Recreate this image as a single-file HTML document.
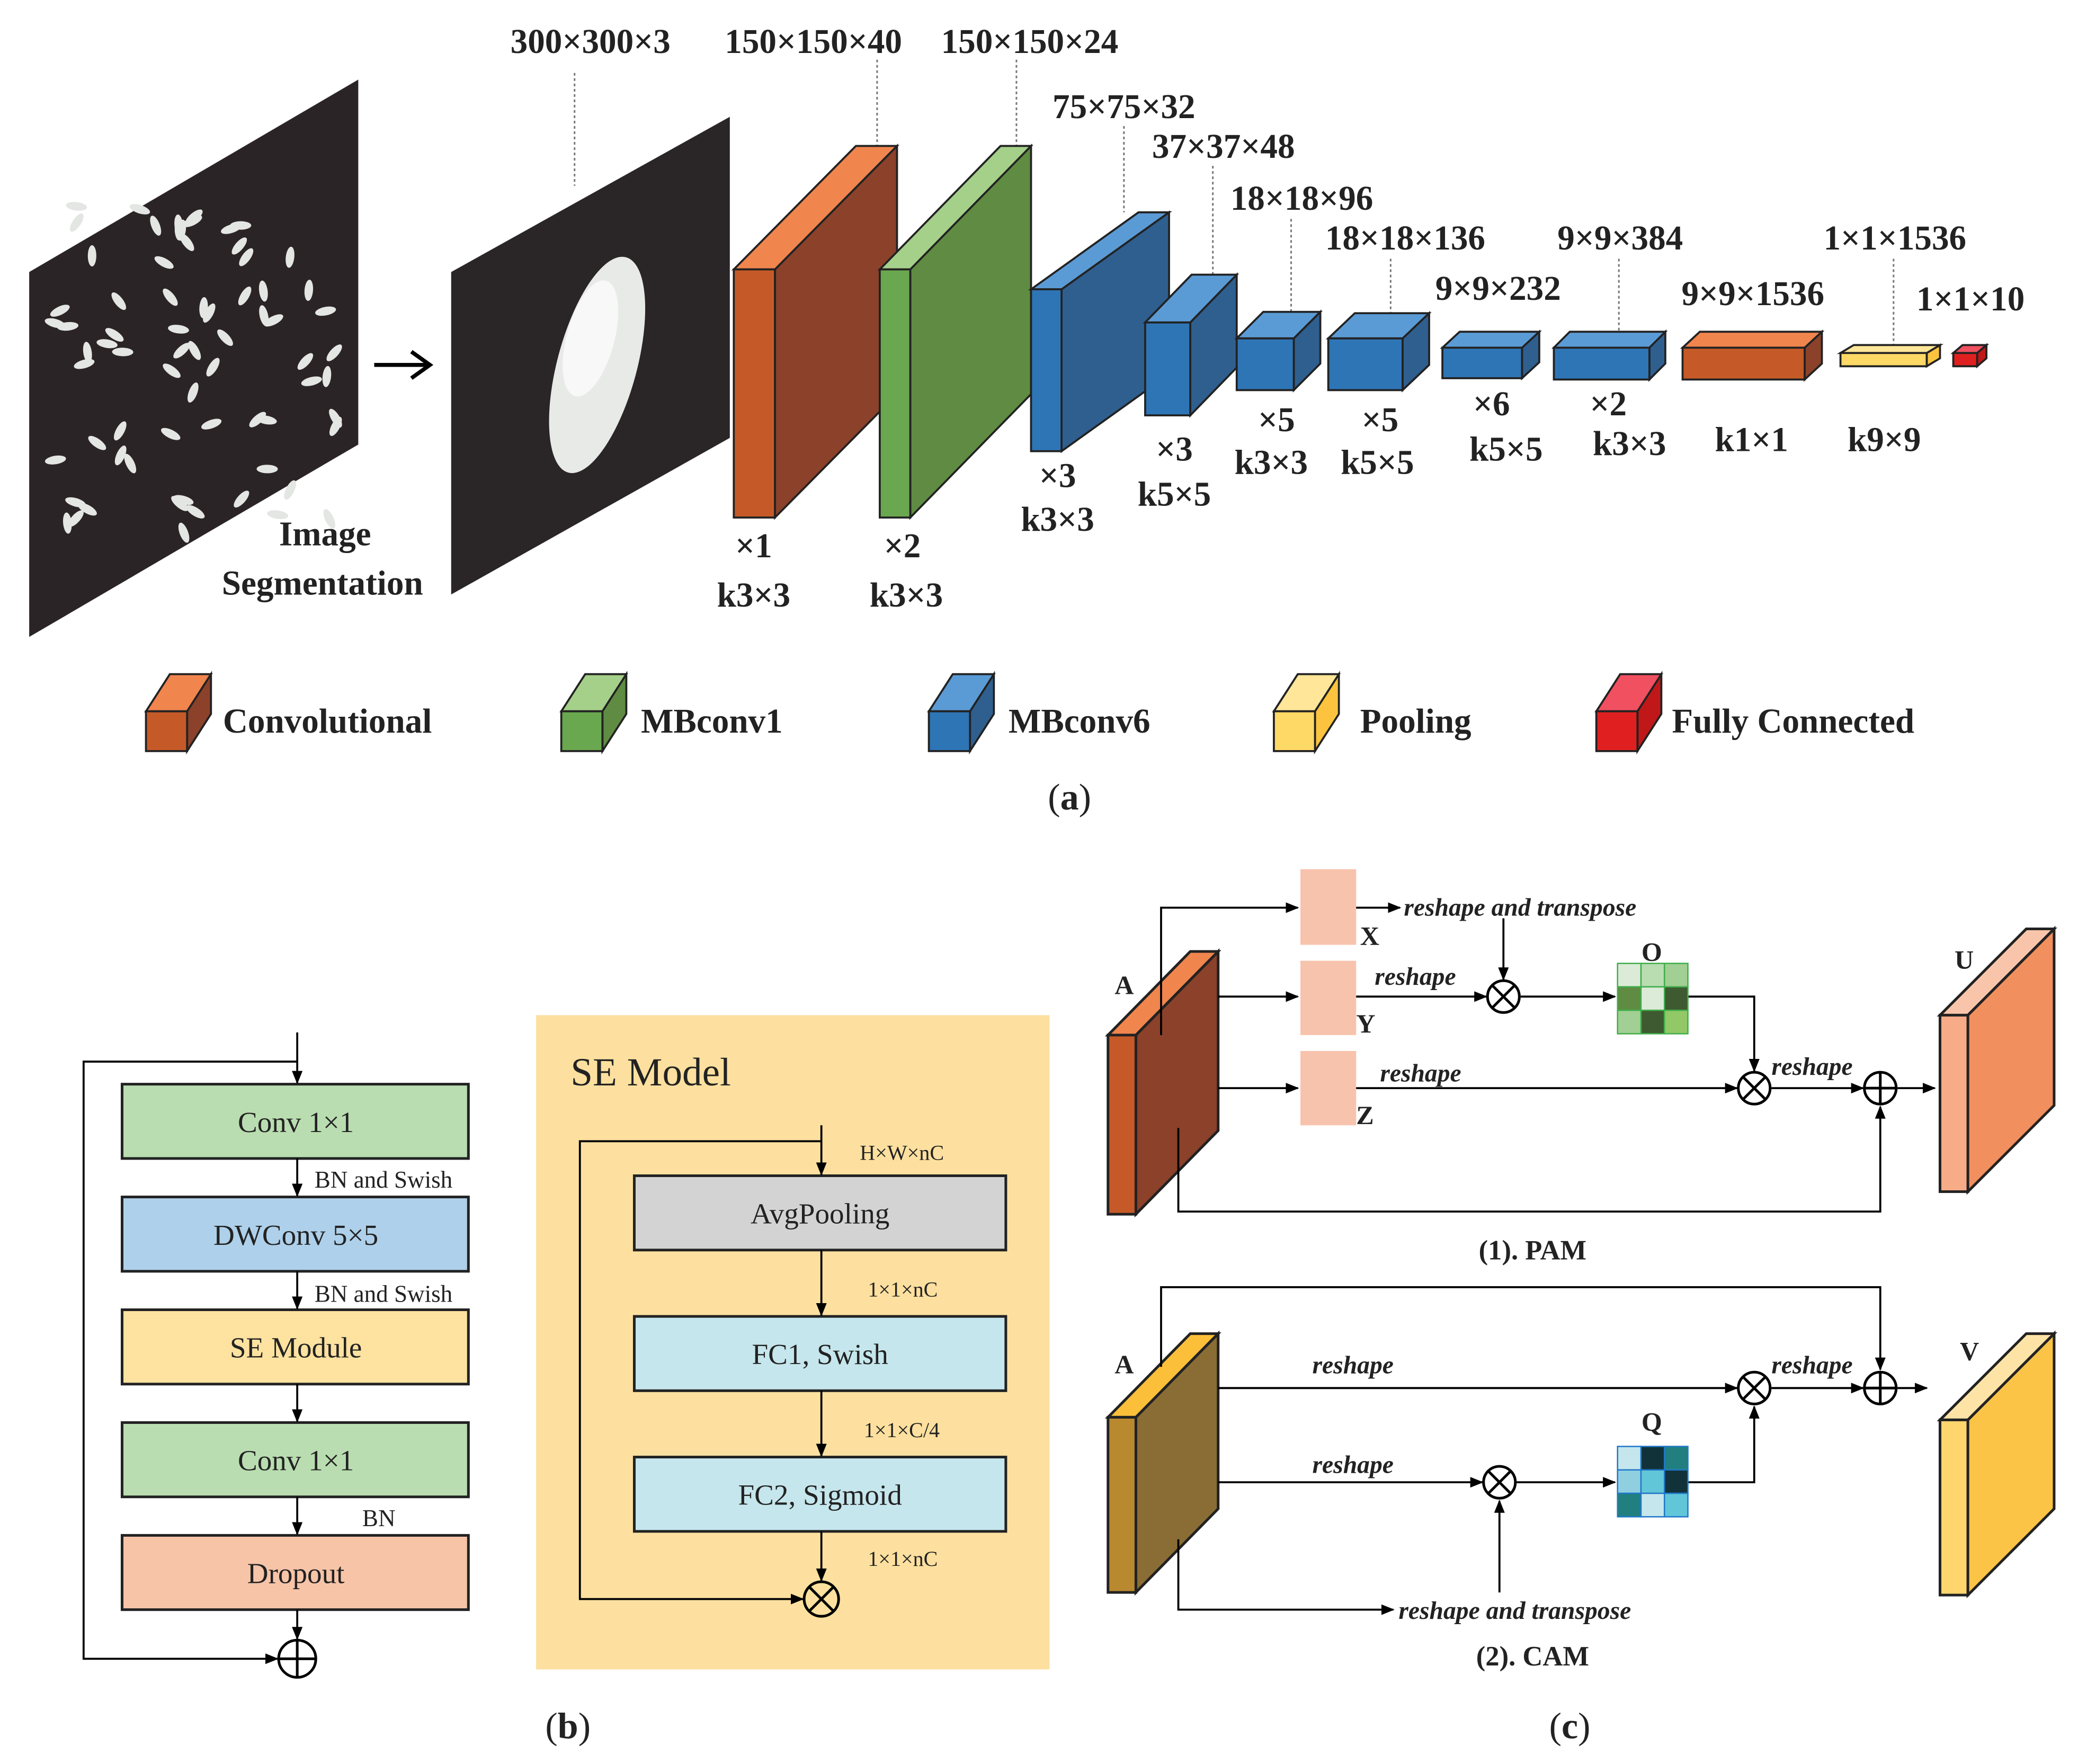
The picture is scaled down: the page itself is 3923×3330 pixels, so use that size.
<!DOCTYPE html>
<html><head><meta charset="utf-8"><style>
html,body{margin:0;padding:0;background:#fff;}
svg{display:block;}
text{font-family:"Liberation Serif",serif;fill:#222;}
.b{font-weight:bold;}
.l{font-size:26px;font-weight:bold;}
.it{font-style:italic;font-weight:bold;font-size:19px;}
</style></head><body>
<svg id="s" width="3923" height="3330" viewBox="0 0 1566 1329.3" preserveAspectRatio="none" xmlns="http://www.w3.org/2000/svg">
<defs>
<marker id="ar" markerWidth="10" markerHeight="8" refX="9" refY="4" orient="auto" markerUnits="userSpaceOnUse"><path d="M0,0 L10,4 L0,8 z" fill="#000"/></marker>
</defs>
<rect width="1570" height="1335" fill="#fff"/>
<polygon points="22,205 270,60 270,335 22,480" fill="#2b2426"/>
<g id="rice"></g>
<polygon points="340,205 550,88 550,330 340,448" fill="#2a2527"/>
<ellipse cx="450" cy="275" rx="30" ry="84" transform="rotate(15 450 275)" fill="#e8eae8"/>
<ellipse cx="445" cy="255" rx="18" ry="45" transform="rotate(15 445 255)" fill="#f7f8f7"/>
<line x1="282" y1="275" x2="322" y2="275" stroke="#000" stroke-width="3"/>
<path d="M310,265 L324,275 L310,285" fill="none" stroke="#000" stroke-width="3"/>
<text x="245" y="411" class="l" text-anchor="middle">Image</text>
<text x="243" y="448" class="l" text-anchor="middle">Segmentation</text>
<g stroke="#777" stroke-width="1.2" stroke-dasharray="2,2">
<line x1="433" y1="55" x2="433" y2="140"/><line x1="661" y1="45" x2="661" y2="110"/><line x1="766" y1="45" x2="766" y2="110"/>
<line x1="847" y1="95" x2="847" y2="160"/><line x1="914" y1="125" x2="914" y2="207"/><line x1="973" y1="165" x2="973" y2="236"/>
<line x1="1048" y1="195" x2="1048" y2="236"/><line x1="1220" y1="195" x2="1220" y2="250"/><line x1="1427" y1="195" x2="1427" y2="260"/>
</g>
<g class="l" text-anchor="middle">
<text x="445" y="40" class="l">300×300×3</text><text x="613" y="40" class="l">150×150×40</text><text x="776" y="40" class="l">150×150×24</text>
<text x="847" y="89" class="l">75×75×32</text><text x="922" y="119" class="l">37×37×48</text><text x="981" y="158" class="l">18×18×96</text>
<text x="1059" y="188" class="l">18×18×136</text><text x="1129" y="226" class="l">9×9×232</text><text x="1221" y="188" class="l">9×9×384</text>
<text x="1321" y="230" class="l">9×9×1536</text><text x="1428" y="188" class="l">1×1×1536</text><text x="1485" y="234" class="l">1×1×10</text>
<text x="568" y="420" class="l">×1</text><text x="568" y="457" class="l">k3×3</text>
<text x="680" y="420" class="l">×2</text><text x="683" y="457" class="l">k3×3</text>
<text x="797" y="367" class="l">×3</text><text x="797" y="400" class="l">k3×3</text>
<text x="885" y="347" class="l">×3</text><text x="885" y="381" class="l">k5×5</text>
<text x="962" y="325" class="l">×5</text><text x="958" y="357" class="l">k3×3</text>
<text x="1040" y="325" class="l">×5</text><text x="1038" y="357" class="l">k5×5</text>
<text x="1124" y="313" class="l">×6</text><text x="1135" y="347" class="l">k5×5</text>
<text x="1212" y="313" class="l">×2</text><text x="1228" y="343" class="l">k3×3</text>
<text x="1320" y="340" class="l">k1×1</text><text x="1420" y="340" class="l">k9×9</text>
</g>
<g id="cubes"></g>
<g class="l">
<text x="168" y="552" class="l">Convolutional</text><text x="483" y="552" class="l">MBconv1</text><text x="760" y="552" class="l">MBconv6</text>
<text x="1025" y="552" class="l">Pooling</text><text x="1260" y="552" class="l">Fully Connected</text>
</g>
<text x="806" y="610" font-size="28" text-anchor="middle">(<tspan font-weight="bold">a</tspan>)</text>

<g stroke="#222" stroke-width="2">
<rect x="92" y="817" width="261" height="56" fill="#b9ddb0"/>
<rect x="92" y="902" width="261" height="56" fill="#aed0ea"/>
<rect x="92" y="987" width="261" height="56" fill="#fde2a0"/>
<rect x="92" y="1072" width="261" height="56" fill="#b9ddb0"/>
<rect x="92" y="1157" width="261" height="56" fill="#f7c4a8"/>
</g>
<g stroke="#000" stroke-width="1.5" fill="none" marker-end="url(#ar)">
<line x1="224" y1="778" x2="224" y2="816"/><line x1="224" y1="873" x2="224" y2="901"/><line x1="224" y1="958" x2="224" y2="986"/>
<line x1="224" y1="1043" x2="224" y2="1071"/><line x1="224" y1="1128" x2="224" y2="1156"/><line x1="224" y1="1213" x2="224" y2="1235"/>
<polyline points="224,800 63,800 63,1250 209,1250"/>
</g>
<circle cx="224" cy="1250" r="14" fill="#fff" stroke="#000" stroke-width="2"/>
<path d="M210,1250h28M224,1236v28" stroke="#000" stroke-width="2"/>
<g font-size="22" text-anchor="middle">
<text x="223" y="853">Conv 1×1</text><text x="223" y="938">DWConv 5×5</text><text x="223" y="1023">SE Module</text>
<text x="223" y="1108">Conv 1×1</text><text x="223" y="1193">Dropout</text>
</g>
<g font-size="18"><text x="237" y="895">BN and Swish</text><text x="237" y="981">BN and Swish</text><text x="273" y="1150">BN</text></g>
<text x="428" y="1310" font-size="28" text-anchor="middle">(<tspan font-weight="bold">b</tspan>)</text>

<rect x="404" y="765" width="387" height="493" fill="#fde09f"/>
<text x="430" y="818" font-size="30">SE Model</text>
<g stroke="#222" stroke-width="2">
<rect x="478" y="886" width="280" height="56" fill="#d3d3d3"/>
<rect x="478" y="992" width="280" height="56" fill="#c5e6ec"/>
<rect x="478" y="1098" width="280" height="56" fill="#c5e6ec"/>
</g>
<g font-size="22" text-anchor="middle"><text x="618" y="922">AvgPooling</text><text x="618" y="1028">FC1, Swish</text><text x="618" y="1134">FC2, Sigmoid</text></g>
<g stroke="#000" stroke-width="1.5" fill="none" marker-end="url(#ar)">
<line x1="619" y1="848" x2="619" y2="885"/><line x1="619" y1="942" x2="619" y2="991"/><line x1="619" y1="1048" x2="619" y2="1097"/><line x1="619" y1="1154" x2="619" y2="1191"/>
<polyline points="619,860 437,860 437,1205 605,1205"/>
</g>
<circle cx="619" cy="1205" r="13" fill="none" stroke="#000" stroke-width="2"/>
<path d="M610,1196l18,18M628,1196l-18,18" stroke="#000" stroke-width="2"/>
<g font-size="16"><text x="648" y="874">H×W×nC</text><text x="654" y="977">1×1×nC</text><text x="651" y="1083">1×1×C/4</text><text x="654" y="1180">1×1×nC</text></g>

<g fill="#f8c3ad"><rect x="980" y="655" width="42" height="57"/><rect x="980" y="724" width="42" height="56"/><rect x="980" y="792" width="42" height="56"/></g>
<g stroke="#000" stroke-width="1.5" fill="none" marker-end="url(#ar)">
<polyline points="875,780 875,684 978,684"/><line x1="918" y1="751" x2="978" y2="751"/><line x1="918" y1="820" x2="978" y2="820"/>
<line x1="1022" y1="684" x2="1055" y2="684"/><line x1="1133" y1="692" x2="1133" y2="738"/>
<line x1="1022" y1="751" x2="1120" y2="751"/><line x1="1146" y1="751" x2="1217" y2="751"/>
<polyline points="1272,751 1322,751 1322,807"/><line x1="1022" y1="820" x2="1309" y2="820"/><line x1="1335" y1="820" x2="1404" y2="820"/>
<line x1="1430" y1="820" x2="1458" y2="820"/><polyline points="888,850 888,913 1417,913 1417,834"/>
<polyline points="875,1030 875,970 1417,970 1417,1032"/><line x1="918" y1="1046" x2="1309" y2="1046"/><line x1="1335" y1="1046" x2="1404" y2="1046"/>
<line x1="1430" y1="1046" x2="1452" y2="1046"/><line x1="918" y1="1117" x2="1117" y2="1117"/><line x1="1143" y1="1117" x2="1217" y2="1117"/>
<polyline points="1272,1117 1322,1117 1322,1060"/><line x1="1130" y1="1200" x2="1130" y2="1131"/>
<polyline points="888,1160 888,1213 1050,1213"/>
</g>
<g id="ops"></g>
<g id="mats"></g>
<g class="b" font-size="20"><text x="1025" y="712">X</text><text x="1022" y="778">Y</text><text x="1022" y="847">Z</text>
<text x="840" y="749">A</text><text x="1237" y="724">O</text><text x="1473" y="730">U</text>
<text x="840" y="1035">A</text><text x="1237" y="1078">Q</text><text x="1477" y="1025">V</text></g>
<g class="it"><text x="1058" y="690">reshape and transpose</text><text x="1036" y="742">reshape</text><text x="1040" y="815">reshape</text>
<text x="1335" y="810">reshape</text><text x="989" y="1035">reshape</text><text x="989" y="1110">reshape</text><text x="1335" y="1035">reshape</text>
<text x="1054" y="1220">reshape and transpose</text></g>
<g class="b" font-size="21" text-anchor="middle"><text x="1155" y="949">(1). PAM</text><text x="1155" y="1255">(2). CAM</text></g>
<text x="1183" y="1310" font-size="28" text-anchor="middle">(<tspan font-weight="bold">c</tspan>)</text>
</svg>
<script>
var NS="http://www.w3.org/2000/svg";
function el(p,t,a){var e=document.createElementNS(NS,t);for(var k in a)e.setAttribute(k,a[k]);p.appendChild(e);return e;}
var C=document.getElementById("cubes");
function cube(x,w,y,h,dx,dy,f,s,t,sw){
 sw=sw||1.5;
 el(C,"polygon",{points:[x+w,y,x+w+dx,y-dy,x+w+dx,y+h-dy,x+w,y+h].join(" "),fill:s,stroke:"#222","stroke-width":sw});
 el(C,"polygon",{points:[x,y,x+dx,y-dy,x+w+dx,y-dy,x+w,y].join(" "),fill:t,stroke:"#222","stroke-width":sw});
 el(C,"rect",{x:x,y:y,width:w,height:h,fill:f,stroke:"#222","stroke-width":sw});
}
var O=["#c55a28","#8b412a","#f0854e"],G=["#6aa84f","#5f8c42","#a5d08a"],B=["#2e75b6","#2f5f8f","#5b9bd5"],Y=["#ffd966","#fcc43e","#ffe699"],R=["#e02020","#c01818","#f05060"];
cube(553,31,203,187,92,93,O[0],O[1],O[2]);
cube(663,23,203,187,91,93,G[0],G[1],G[2]);
cube(777,23,218,122,81,58,B[0],B[1],B[2]);
cube(863,34,243,70,35,36,B[0],B[1],B[2]);
cube(932,43,255,39,20,20,B[0],B[1],B[2]);
cube(1001,56,255,39,20,19,B[0],B[1],B[2]);
cube(1087,60,262,23,13,12,B[0],B[1],B[2]);
cube(1171,72,262,24,12,12,B[0],B[1],B[2]);
cube(1268,92,262,24,13,12,O[0],O[1],O[2]);
cube(1387,65,266,10,10,6,Y[0],Y[1],Y[2]);
cube(1472,18,266,10,7,6,R[0],R[1],R[2]);
var L=[[110,O],[423,G],[700,B],[960,Y],[1203,R]];
L.forEach(function(l){cube(l[0],31,536,30,18,28,l[1][0],l[1][1],l[1][2]);});
cube(835,21,780,135,62,63,"#c55a28","#8b412a","#f0854e",2);
cube(1462,21,765,133,65,65,"#f7ab86","#f28f5e","#f9c5aa",2);
cube(835,21,1068,132,62,63,"#b8892f","#8a6d35","#fbbf3a",2);
cube(1462,21,1070,132,65,65,"#ffd56e","#fcc447","#fde3a6",2);
var Rg=document.getElementById("rice");var seed=7;function rnd(){seed=(seed*9301+49297)%233280;return seed/233280;}
for(var i=0;i<70;i++){var cx=40+rnd()*215,cy=150+rnd()*260;var top=205-(cx-22)*145/248;if(cy<top+15||cy>top+270)continue;
 el(Rg,"ellipse",{cx:cx,cy:cy,rx:3.2,ry:8,transform:"rotate("+(rnd()*180)+" "+cx+" "+cy+")",fill:"#e4e6e4"});}
var P=document.getElementById("ops");
function ot(x,y){el(P,"circle",{cx:x,cy:y,r:12,fill:"#fff",stroke:"#000","stroke-width":2});el(P,"path",{d:"M"+(x-8.5)+","+(y-8.5)+"l17,17M"+(x+8.5)+","+(y-8.5)+"l-17,17",stroke:"#000","stroke-width":2});}
function op(x,y){el(P,"circle",{cx:x,cy:y,r:12,fill:"#fff",stroke:"#000","stroke-width":2});el(P,"path",{d:"M"+(x-12)+","+y+"h24M"+x+","+(y-12)+"v24",stroke:"#000","stroke-width":2});}
ot(1133,751);ot(1322,820);op(1417,820);ot(1322,1046);op(1417,1046);ot(1130,1117);
var M=document.getElementById("mats");
function mat(x,y,cols,st){var w=53/3;for(var r=0;r<3;r++)for(var c=0;c<3;c++)el(M,"rect",{x:x+c*w,y:y+r*w,width:w,height:w,fill:cols[r*3+c],stroke:st,"stroke-width":1});}
mat(1219,726,["#dcebd7","#b9dcb0","#a2cf94","#5f8c42","#dcebd7","#3e5a30","#a2cf94","#3e5a30","#92c866"],"#3fae4a");
mat(1219,1090,["#c5e6ec","#12323a","#21807f","#8fcfe0","#62c6d9","#12323a","#21807f","#c5e6ec","#62c6d9"],"#1f78c8");
</script>
</body></html>
